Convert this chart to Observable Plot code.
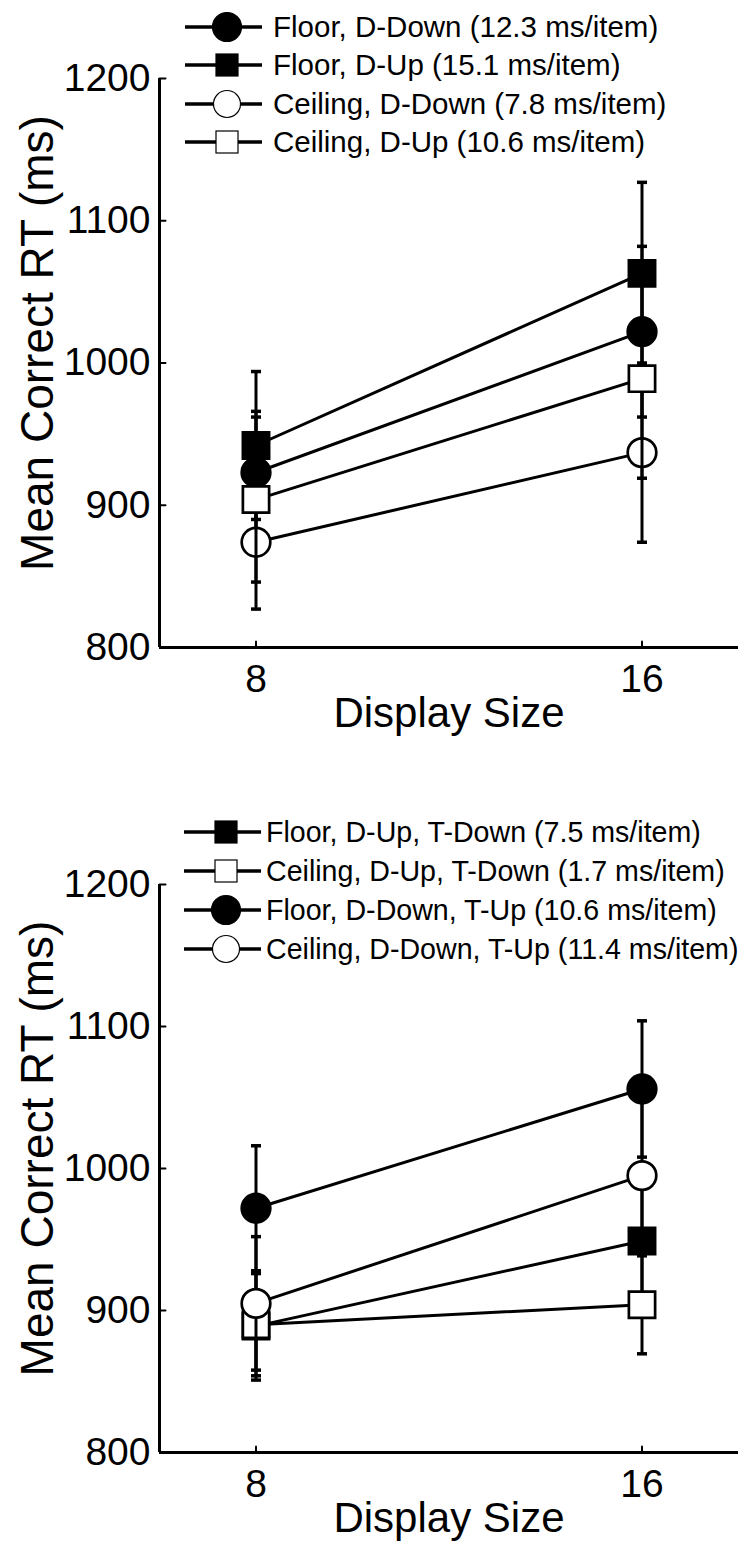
<!DOCTYPE html>
<html><head><meta charset="utf-8">
<script src="https://cdn.jsdelivr.net/npm/d3@7"></script>
<script src="https://cdn.jsdelivr.net/npm/@observablehq/plot@0.6"></script>
<style>
body{margin:0;background:#fff;font-family:"Liberation Sans",Arial,sans-serif;}
#wrap{position:relative;width:754px;height:1551px;overflow:hidden;}
.panel{position:absolute;left:0;width:754px;}
.row{position:absolute;display:flex;align-items:center;white-space:nowrap;color:#000;font-family:"Liberation Sans",Arial,sans-serif;}
.row svg{flex:none;}
</style></head><body><div id="wrap"></div>
<script>
// ---- shared axes ----
const displaySizes = [8, 16];
const xTicks = [8, 16];
const yTicks = [800, 900, 1000, 1100, 1200];
const xLabel = "Display Size";
const yLabel = "Mean Correct RT (ms)";

// ---- top panel ----
const topNames = ["Floor, D-Down", "Floor, D-Up", "Ceiling, D-Down", "Ceiling, D-Up"];
const topSlopes = ["12.3", "15.1", "7.8", "10.6"];
const topSymbols = ["circle", "square", "circle", "square"];
const topFilled = [true, true, false, false];
const topMeans = [[923, 1022], [942, 1063], [874, 937], [904, 989]];
const topErrors = [[43, 60], [52, 64], [47, 63], [58, 70]];

// ---- bottom panel ----
const botNames = ["Floor, D-Up, T-Down", "Ceiling, D-Up, T-Down", "Floor, D-Down, T-Up", "Ceiling, D-Down, T-Up"];
const botSlopes = ["7.5", "1.7", "10.6", "11.4"];
const botSymbols = ["square", "square", "circle", "circle"];
const botFilled = [true, false, true, false];
const botMeans = [[889, 949], [890, 904], [972, 1056], [905, 995]];
const botErrors = [[38, 45], [36, 34.5], [44, 48], [47, 54]];

const FONT = '"Liberation Sans", Arial, sans-serif';
const capSymbol = {draw(ctx) { ctx.moveTo(-5, 0); ctx.lineTo(5, 0); }};
const tickShape = {draw(ctx, l) { ctx.moveTo(0, 0); ctx.lineTo(0, -l); }};

function makePanel(names, symbols, filled, means, errors, layout) {
  const marks = [];
  marks.push(Plot.ruleX([6], {strokeWidth: 3}));
  marks.push(Plot.ruleY([800], {strokeWidth: 3}));
  marks.push(Plot.vector(yTicks.slice(1), {y: d => d, frameAnchor: "left", rotate: 90, length: 6, anchor: "start", shape: tickShape, strokeWidth: 2}));
  marks.push(Plot.vector(xTicks, {x: d => d, frameAnchor: "bottom", rotate: 0, length: 6, anchor: "start", shape: tickShape, strokeWidth: 2}));
  marks.push(Plot.axisY({ticks: yTicks, tickSize: 0, tickPadding: 9, fontSize: 39, label: null, tickFormat: d => String(d)}));
  marks.push(Plot.axisX({ticks: xTicks, tickSize: 0, tickPadding: 17, fontSize: 39, label: null}));
  marks.push(Plot.text([xLabel], {frameAnchor: "bottom", dy: 66, fontSize: 42, textAnchor: "middle", lineAnchor: "middle"}));
  marks.push(Plot.text([yLabel], {frameAnchor: "left", dx: -121, dy: -20, rotate: -90, fontSize: 46, textAnchor: "middle", lineAnchor: "middle"}));
  names.forEach((name, i) => {
    const rows = displaySizes.map((x, j) => ({x, mean: means[i][j], lo: means[i][j] - errors[i][j], hi: means[i][j] + errors[i][j]}));
    marks.push(Plot.ruleX(rows, {x: "x", y1: "lo", y2: "hi", strokeWidth: 3}));
    marks.push(Plot.dot(rows, {x: "x", y: "lo", symbol: capSymbol, fill: "none", stroke: "black", strokeWidth: 3.5}));
    marks.push(Plot.dot(rows, {x: "x", y: "hi", symbol: capSymbol, fill: "none", stroke: "black", strokeWidth: 3.5}));
    marks.push(Plot.line(rows, {x: "x", y: "mean", stroke: "black", strokeWidth: 3}));
    marks.push(Plot.dot(rows, {x: "x", y: "mean", symbol: symbols[i], r: symbols[i] === "square" ? 14.8 : 14.3, fill: filled[i] ? "black" : "white", stroke: "black", strokeWidth: 2.7}));
  });
  return Plot.plot({
    width: 754, height: layout.height,
    marginLeft: 159, marginRight: 16, marginTop: layout.top, marginBottom: layout.bottom,
    x: {type: "linear", domain: [6, 18]},
    y: {type: "linear", domain: [800, 1200]},
    style: {fontFamily: FONT, color: "black", background: "white", overflow: "visible"},
    marks
  });
}

function legendSwatch(symbol, fill) {
  const ns = "http://www.w3.org/2000/svg";
  const svg = document.createElementNS(ns, "svg");
  svg.setAttribute("width", 80); svg.setAttribute("height", 34);
  const line = document.createElementNS(ns, "line");
  line.setAttribute("x1", 0); line.setAttribute("x2", 77); line.setAttribute("y1", 17); line.setAttribute("y2", 17);
  line.setAttribute("stroke", "black"); line.setAttribute("stroke-width", 3.3);
  svg.appendChild(line);
  let m;
  if (symbol === "circle") {
    m = document.createElementNS(ns, "circle");
    m.setAttribute("cx", 42); m.setAttribute("cy", 17); m.setAttribute("r", fill ? 14.5 : 13.5);
  } else {
    m = document.createElementNS(ns, "rect");
    m.setAttribute("x", 42 - 11); m.setAttribute("y", 17 - 11); m.setAttribute("width", 22); m.setAttribute("height", 22);
  }
  m.setAttribute("fill", fill ? "black" : "white"); m.setAttribute("stroke", "black"); m.setAttribute("stroke-width", 1.2);
  svg.appendChild(m);
  return svg;
}

function addLegend(wrap, names, slopes, symbols, filled, pos) {
  names.forEach((name, i) => {
    const row = document.createElement("div");
    row.className = "row";
    row.style.fontSize = pos.fontSize + "px";
    row.style.left = pos.left + "px";
    row.style.top = (pos.top + i * pos.step - 17) + "px";
    row.appendChild(legendSwatch(symbols[i], filled[i]));
    const t = document.createElement("span");
    t.style.marginLeft = pos.gap + "px";
    t.textContent = `${name} (${slopes[i]} ms/item)`;
    row.appendChild(t);
    wrap.appendChild(row);
  });
}

const wrap = document.getElementById("wrap");
const p1 = document.createElement("div"); p1.className = "panel"; p1.style.top = "0px";
p1.appendChild(makePanel(topNames, topSymbols, topFilled, topMeans, topErrors, {height: 775, top: 78, bottom: 128}));
wrap.appendChild(p1);
const p2 = document.createElement("div"); p2.className = "panel"; p2.style.top = "775px";
p2.appendChild(makePanel(botNames, botSymbols, botFilled, botMeans, botErrors, {height: 776, top: 109, bottom: 99}));
wrap.appendChild(p2);
addLegend(wrap, topNames, topSlopes, topSymbols, topFilled, {left: 185, top: 27, step: 38.3, gap: 8, fontSize: 29.5});
addLegend(wrap, botNames, botSlopes, botSymbols, botFilled, {left: 184, top: 832, step: 39, gap: 2, fontSize: 28.6});
</script></body></html>
